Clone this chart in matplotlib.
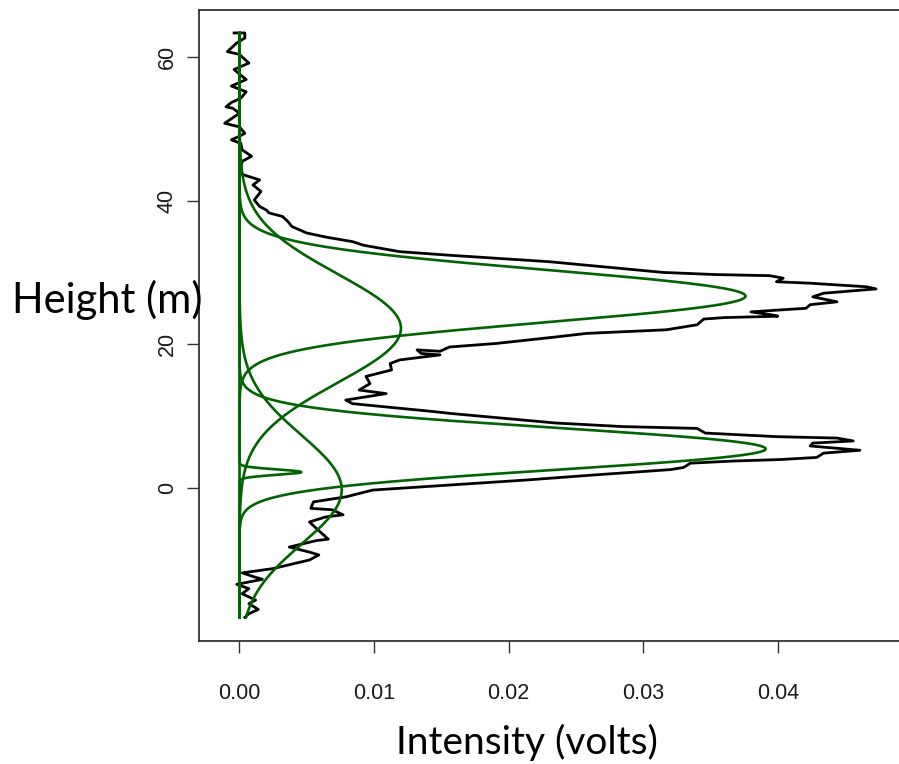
import numpy as np
import matplotlib
matplotlib.use("Agg")
import matplotlib.pyplot as plt

# ---- black waveform: (height m, intensity volts), top -> bottom
wave_height = [63.4, 63.4, 62.7, 62.0, 60.8, 60.4, 59.2, 58.3, 56.9, 56.0, 55.2, 54.3, 53.7, 53.1,
               52.9, 52.2, 50.8, 50.3, 49.4, 49.0, 48.5, 48.0, 47.1, 46.2, 45.5, 43.8, 42.9, 42.2,
               41.3, 40.1, 39.2, 38.7, 38.3, 37.8, 37.1, 36.4, 35.9, 35.5, 34.9, 34.3, 33.8, 32.9,
               32.4, 31.5, 30.0, 29.7, 29.55, 29.2, 28.7, 28.5, 28.0, 27.7, 27.1, 26.6, 25.9, 25.5,
               25.0, 24.8, 24.5, 24.1, 23.9, 23.7, 23.5, 22.7, 22.0, 21.5, 21.0, 20.1, 19.6, 19.0,
               19.2, 18.7, 18.5, 17.8, 17.3, 16.4, 15.5, 14.5, 13.6, 13.1, 12.2, 11.7, 10.6, 10.35,
               9.0, 8.5, 8.25, 7.6, 7.1, 6.9, 6.5, 6.2, 5.8, 5.2, 4.8, 4.2, 3.9, 3.7, 3.4, 2.8, 2.5,
               1.75, 1.05, 0.35, -0.35, -1.3, -1.5, -2.0, -2.9, -3.1, -3.8, -4.1, -4.8, -5.5, -7.2,
               -7.4, -8.3, -9.0, -9.4, -10.1, -11.3, -11.9, -12.4, -12.8, -13.5, -14.1, -14.8,
               -15.7, -16.2, -17.0, -17.6, -18.1]
wave_intensity = [-0.0004, 0.0004, 0.0004, -0.0002, -0.0009, 0.0000, 0.0007, -0.0004, 0.0005,
                  -0.0006, 0.0005, 0.0001, -0.0006, -0.0010, -0.0005, 0.0000, -0.0011, 0.0000,
                  0.0004, 0.0000, -0.0006, 0.0001, 0.0002, 0.0009, 0.0002, 0.0000, 0.0015, 0.0010,
                  0.0016, 0.0011, 0.0015, 0.0020, 0.0022, 0.0032, 0.0036, 0.0039, 0.0045, 0.0050,
                  0.0065, 0.0084, 0.0092, 0.0119, 0.0156, 0.0230, 0.0315, 0.0354, 0.0394, 0.0404,
                  0.0399, 0.0424, 0.0466, 0.0473, 0.0434, 0.0426, 0.0444, 0.0424, 0.0421, 0.0404,
                  0.0380, 0.0395, 0.0400, 0.0360, 0.0345, 0.0340, 0.0317, 0.0258, 0.0235, 0.0191,
                  0.0156, 0.0149, 0.0132, 0.0135, 0.0149, 0.0119, 0.0112, 0.0113, 0.0094, 0.0097,
                  0.0089, 0.0109, 0.0079, 0.0084, 0.0144, 0.0156, 0.0235, 0.0285, 0.0340, 0.0346,
                  0.0399, 0.0444, 0.0456, 0.0426, 0.0424, 0.0461, 0.0434, 0.0429, 0.0401, 0.0367,
                  0.0335, 0.0330, 0.0320, 0.0263, 0.0213, 0.0156, 0.0099, 0.0079, 0.0072, 0.0055,
                  0.0053, 0.0069, 0.0077, 0.0064, 0.0052, 0.0056, 0.0066, 0.0057, 0.0037, 0.0052,
                  0.0059, 0.0052, 0.0025, 0.0002, 0.0010, 0.0017, -0.0002, 0.0007, 0.0002, 0.0012,
                  0.0007, 0.0014, 0.0007, 0.0004]

# ---- fitted Gaussian components (green): amplitude, centre height, sigma
comp_amp = [0.0376, 0.0120, 0.0391, 0.0046, 0.0076]
comp_mu = [26.7, 22.2, 5.4, 2.15, -0.3]
comp_sigma = [3.65, 7.6, 2.9, 0.38, 7.6]

x_ticks = [0.00, 0.01, 0.02, 0.03, 0.04]
x_tick_labels = ["0.00", "0.01", "0.02", "0.03", "0.04"]
y_ticks = [0, 20, 40, 60]
y_tick_labels = ["0", "20", "40", "60"]

fig = plt.figure(figsize=(8.99, 7.64), dpi=100)
ax = fig.add_axes([0.2219, 0.161, 0.790, 0.8259])

ax.plot(wave_intensity, wave_height, color="black", lw=2.0, solid_joinstyle="round")

h = np.linspace(min(wave_height), max(wave_height), 1200)
for a, m, s in zip(comp_amp, comp_mu, comp_sigma):
    ax.plot(a * np.exp(-0.5 * ((h - m) / s) ** 2), h, color="#006400", lw=1.9)

ax.set_xlim(-0.00297, 0.0498)
ax.set_ylim(-21.4, 66.6)
ax.set_xticks(x_ticks)
ax.set_xticklabels(x_tick_labels, fontfamily="Liberation Sans", fontsize=15.5, color="#1a1a1a")
ax.set_yticks(y_ticks)
ax.set_yticklabels(y_tick_labels, fontfamily="Liberation Sans", fontsize=15.5, rotation=90,
                   va="center", color="#1a1a1a")
ax.tick_params(axis="both", direction="out", length=8.5, width=1.0, color="#333333")
ax.tick_params(axis="x", pad=22)
ax.tick_params(axis="y", pad=7)
for sp in ax.spines.values():
    sp.set_linewidth(1.3)
    sp.set_color("#333333")

fig.text(0.119, 0.607, "Height (m)", fontfamily="Lato", fontsize=30, ha="center", va="center")
fig.text(0.586, 0.0288, "Intensity (volts)", fontfamily="Lato", fontsize=28, ha="center",
         va="center")

fig.savefig("out.png", dpi=100)
